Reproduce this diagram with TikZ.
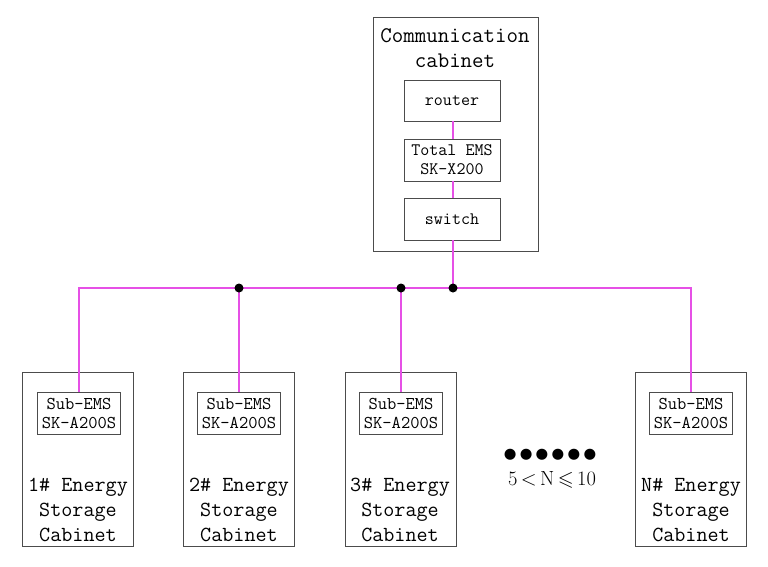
\documentclass[tikz,border=0pt]{standalone}
\usepackage{fontspec}
\usepackage{amssymb}
\newfontfamily\dejavu{DejaVu Sans}
\tikzset{
  x=1pt,y=-1pt,
  cab/.style={draw=black!70, line width=0.8pt, inner sep=0pt, minimum width=111pt, minimum height=174pt},
  dev/.style={draw=black!70, line width=0.8pt, inner sep=0pt, minimum width=96pt, minimum height=41pt, align=center, font=\ttfamily\fontsize{17.5}{19}\selectfont},
  sub/.style={draw=black!70, line width=0.8pt, inner sep=0pt, minimum width=83pt, minimum height=42pt, align=center, font=\ttfamily\fontsize{18}{19}\selectfont},
  lbl/.style={align=center, inner sep=0pt, font=\ttfamily\fontsize{21.5}{25}\selectfont},
  bus/.style={draw={rgb,255:red,230;green,80;blue,230}, line width=1.4pt},
  jdot/.style={circle, fill=black, inner sep=0pt, minimum size=9pt}
}
\begin{document}
\begin{tikzpicture}
\useasboundingbox (0,0) rectangle (768,566);
% communication cabinet
\node[draw=black!70, line width=0.8pt, inner sep=0pt, minimum width=165pt, minimum height=234pt] (comm) at (455.5,134) {};
\node[lbl, font=\ttfamily\fontsize{22.3}{25}\selectfont] (commlbl) at (455,48) {Communication\\cabinet};
\node[dev] (router) at (452,100.5) {router};
\node[dev, minimum height=42pt] (tems) at (452,160) {Total EMS\\SK-X200};
\node[dev, minimum height=42pt] (switch) at (452,219) {switch};
% energy storage cabinets
\node[cab] (c1) at (77.5,459) {};
\node[cab] (c2) at (239,459) {};
\node[cab] (c3) at (400.5,459) {};
\node[cab] (cN) at (690.5,459) {};
\node[sub] (s1) at (79,413.5) {Sub-EMS\\SK-A200S};
\node[sub] (s2) at (239,413.5) {Sub-EMS\\SK-A200S};
\node[sub] (s3) at (401,413.5) {Sub-EMS\\SK-A200S};
\node[sub] (sN) at (691,413.5) {Sub-EMS\\SK-A200S};
\node[lbl] (l1) at (78,510) {1\# Energy\\Storage\\Cabinet};
\node[lbl] (l2) at (239,510) {2\# Energy\\Storage\\Cabinet};
\node[lbl] (l3) at (400,510) {3\# Energy\\Storage\\Cabinet};
\node[lbl] (lN) at (691,510) {N\# Energy\\Storage\\Cabinet};
% ellipsis and range
\node[inner sep=0pt, font=\dejavu\fontsize{14.5}{15}\selectfont] (dots) at (550,455) {●\kern3.3pt●\kern3.3pt●\kern3.3pt●\kern3.3pt●\kern3.3pt●};
\node[inner sep=0pt, font=\fontsize{20.5}{22}\selectfont] (range) at (552,480) {5$\,<\,$N$\,\leqslant\,$10};
% connections
\coordinate (j0) at (453,288);
\draw[bus] (router.south -| j0) -- (tems.north -| j0);
\draw[bus] (tems.south -| j0) -- (switch.north -| j0);
\draw[bus] (switch.south -| j0) -- (j0);
\draw[bus] (s1.north) |- (j0);
\draw[bus] (sN.north) |- (j0);
\draw[bus] (s2.north) -- (s2.north |- j0);
\draw[bus] (s3.north) -- (s3.north |- j0);
\node[jdot] (d2) at (s2.north |- j0) {};
\node[jdot] (d3) at (s3.north |- j0) {};
\node[jdot] (d0) at (j0) {};
\end{tikzpicture}
\end{document}
